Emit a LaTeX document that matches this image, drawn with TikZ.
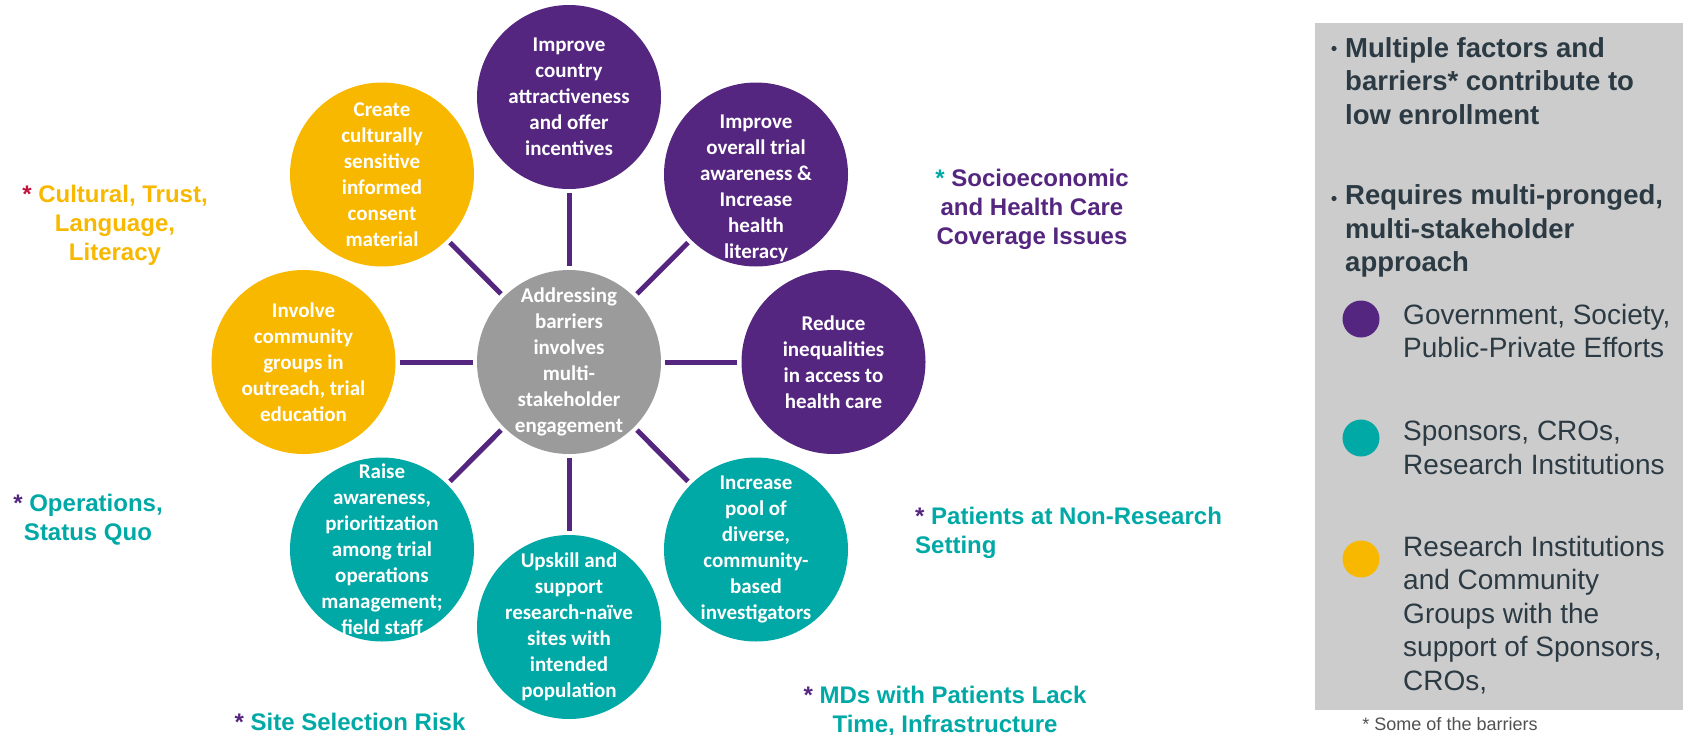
\documentclass[tikz,border=0pt]{standalone}
\usepackage{fontspec}
\setmainfont{Liberation Sans}
\newfontfamily\bubblefont{Carlito}
\usetikzlibrary{calc}
\definecolor{govpurple}{HTML}{55267F}
\definecolor{sponsorteal}{HTML}{01A9A6}
\definecolor{communityyellow}{HTML}{F8B800}
\definecolor{hubgrey}{HTML}{9B9B9B}
\definecolor{panelgrey}{HTML}{CCCCCC}
\definecolor{slate}{HTML}{2C3A44}
\definecolor{starred}{HTML}{C0143C}
\definecolor{footgrey}{HTML}{505050}
\tikzset{
  bubble/.style={circle, draw=none, minimum size=184pt, inner sep=0pt},
  bubbletext/.style={text=white, align=center, inner sep=0pt, font=\bubblefont\bfseries\fontsize{21}{26}\selectfont},
  spoke/.style={draw=govpurple, line width=5pt, shorten <=4pt, shorten >=4pt},
  barrier/.style={align=center, inner sep=0pt, font=\bfseries\fontsize{24}{29}\selectfont},
  paneltext/.style={align=left, inner sep=0pt, text=slate, font=\bfseries\fontsize{27.5}{33.5}\selectfont},
  legenddot/.style={circle, draw=none, minimum size=37pt, inner sep=0pt},
  legendtext/.style={align=left, inner sep=0pt, text=slate, font=\fontsize{28}{33.5}\selectfont}
}
\begin{document}
\begin{tikzpicture}[x=1pt,y=-1pt]
  %%%%% START %%%%%
  \useasboundingbox (0,0) rectangle (1683,734);
  \def\hubx{569}
  \def\huby{362}

  % hub and bubbles
  \node[bubble, fill=hubgrey] (hub) at (\hubx,\huby) {};
  \node[bubble, fill=govpurple] (country) at (\hubx,97) {};
  \node[bubble, fill=govpurple] (awareness) at (756,174.5) {};
  \node[bubble, fill=govpurple] (inequal) at (833.5,\huby) {};
  \node[bubble, fill=sponsorteal] (pool) at (756,549.5) {};
  \node[bubble, fill=sponsorteal] (upskill) at (\hubx,627) {};
  \node[bubble, fill=sponsorteal] (raise) at (382,549.5) {};
  \node[bubble, fill=communityyellow] (involve) at (303.5,\huby) {};
  \node[bubble, fill=communityyellow] (consent) at (382,174.5) {};

  \foreach \n in {country,awareness,inequal,pool,upskill,raise,involve,consent}
    \draw[spoke] (hub) -- (\n);

  \node[bubbletext] (hubtext) at (hub) {Addressing\\barriers\\involves\\multi-\\stakeholder\\engagement};
  \node[bubbletext] (countrytext) at (country) {Improve\\country\\attractiveness\\and offer\\incentives};
  \node[bubbletext, yshift=-14pt] (awarenesstext) at (awareness) {Improve\\overall trial\\awareness \&\\Increase\\health\\literacy};
  \node[bubbletext] (inequaltext) at (inequal) {Reduce\\inequalities\\in access to\\health care};
  \node[bubbletext] (pooltext) at (pool) {Increase\\pool of\\diverse,\\community-\\based\\investigators};
  \node[bubbletext] (upskilltext) at (upskill) {Upskill and\\support\\research-naïve\\sites with\\intended\\population};
  \node[bubbletext] (raisetext) at (raise) {Raise\\awareness,\\prioritization\\among trial\\operations\\management;\\field staff};
  \node[bubbletext] (involvetext) at (involve) {Involve\\community\\groups in\\outreach, trial\\education};
  \node[bubbletext] (consenttext) at (consent) {Create\\culturally\\sensitive\\informed\\consent\\material};

  % barriers
  \node[barrier, text=communityyellow] (cultural) at (115,225) {\textcolor{starred}{*} Cultural, Trust,\\Language,\\Literacy};
  \node[barrier, text=govpurple] (socio) at (1032,209) {\textcolor{sponsorteal}{*} Socioeconomic\\and Health Care\\Coverage Issues};
  \node[barrier, text=sponsorteal] (operations) at (88,520) {\textcolor{govpurple}{*} Operations,\\Status Quo};
  \node[barrier, text=sponsorteal] (siterisk) at (350,722) {\textcolor{govpurple}{*} Site Selection Risk};
  \node[barrier, text=sponsorteal, align=left, anchor=west] (patients) at (915,533) {\textcolor{govpurple}{*} Patients at Non-Research\\Setting};
  \node[barrier, text=sponsorteal] (mds) at (945,711) {\textcolor{govpurple}{*} MDs with Patients Lack\\Time, Infrastructure};

  % side panel
  \fill[panelgrey] (1315,23) rectangle (1683,710);
  \fill[slate] (1334,48.5) circle (2.6);
  \node[paneltext, anchor=west] (factors) at (1345,81) {Multiple factors and\\barriers* contribute to\\low enrollment};
  \fill[slate] (1334,198.5) circle (2.6);
  \node[paneltext, anchor=west] (approach) at (1345,231) {Requires multi-pronged,\\multi-stakeholder\\approach};

  \node[legenddot, fill=govpurple] (govdot) at (1361,319) {};
  \node[legendtext, anchor=west] (govtext) at (1403,331) {Government, Society,\\Public-Private Efforts};
  \node[legenddot, fill=sponsorteal] (tealdot) at (1361,438) {};
  \node[legendtext, anchor=west] (tealtext) at (1403,448) {Sponsors, CROs,\\Research Institutions};
  \node[legenddot, fill=communityyellow] (yellowdot) at (1361,559) {};
  \node[legendtext, anchor=west] (yellowtext) at (1403,615) {Research Institutions\\and Community\\Groups with the\\support of Sponsors,\\CROs,};

  \node[inner sep=0pt, text=footgrey, font=\fontsize{18}{22}\selectfont] (footnote) at (1450,724) {* Some of the barriers};
  %%%%% END %%%%%
\end{tikzpicture}
\end{document}
